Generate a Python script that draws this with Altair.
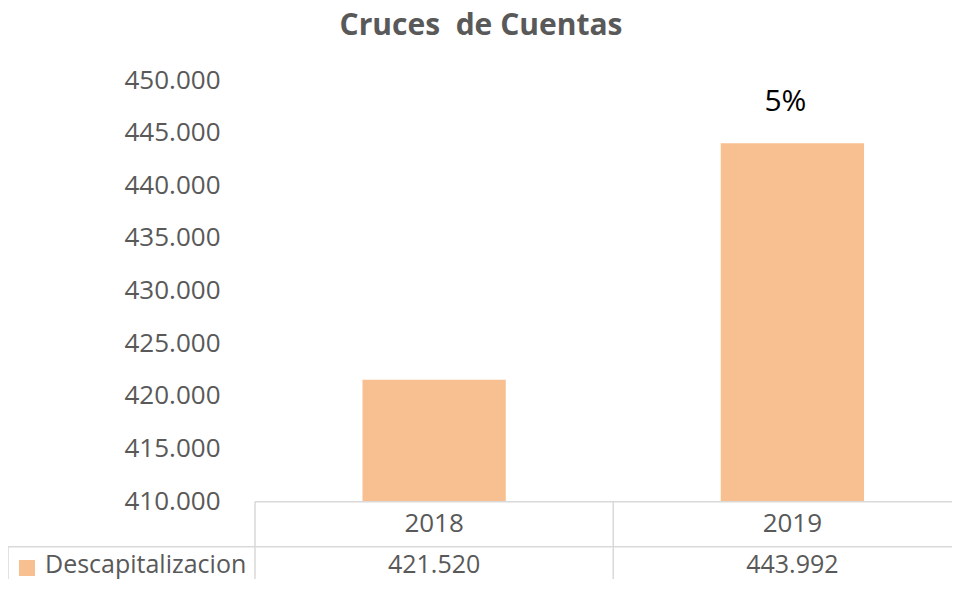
import altair as alt
import pandas as pd

# ---- data ----
years = ["2018", "2019"]
values = [421520, 443992]
pct_labels = ["", "5%"]
series_name = "Descapitalizacion"
y_ticks = [410000, 415000, 420000, 425000, 430000, 435000, 440000, 445000, 450000]
title_text = "Cruces\u00a0 de Cuentas"

FONT = "Open Sans"
GREY = "#595959"
BAR = "#F8C090"
LINE = "#D9D9D9"

df = pd.DataFrame({"year": years, "value": values, "pct": pct_labels})
one = pd.DataFrame({"k": [0]})
legend_df = pd.DataFrame({"name": [series_name]})

x_enc = alt.X(
    "year:N",
    scale=alt.Scale(domain=years, range=[0, 716.5], paddingInner=0.6, paddingOuter=0.3),
    axis=None,
)
y_enc = alt.Y(
    "value:Q",
    scale=alt.Scale(domain=[410000, 450000], zero=False, nice=False),
    axis=alt.Axis(
        values=y_ticks,
        labelExpr="replace(format(datum.value, ',.0f'), ',', '.')",
        labelFont=FONT,
        labelFontSize=26,
        labelColor=GREY,
        labelPadding=35,
        domain=False,
        ticks=False,
        grid=False,
        title=None,
    ),
)

bars = alt.Chart(df).mark_bar(color=BAR).encode(
    x=x_enc, y=y_enc, y2=alt.datum(410000)
)

pct = alt.Chart(df).mark_text(
    font=FONT, fontSize=30, color="#000000", baseline="alphabetic", dy=-32, dx=-7
).encode(x=x_enc, y=alt.Y("value:Q"), text="pct:N")

# data table
header = alt.Chart(df).mark_text(
    font=FONT, fontSize=26, color=GREY, baseline="middle"
).encode(x=x_enc, y=alt.value(444), text="year:N")

cells = alt.Chart(df).transform_calculate(
    label="replace(format(datum.value, ',.0f'), ',', '.')"
).mark_text(font=FONT, fontSize=25, color=GREY, baseline="middle").encode(
    x=x_enc, y=alt.value(485), text="label:N"
)

def rule(x, x2=None, y=None, y2=None):
    enc = {"x": alt.value(x), "y": alt.value(y)}
    if x2 is not None:
        enc["x2"] = alt.value(x2)
    if y2 is not None:
        enc["y2"] = alt.value(y2)
    return alt.Chart(one).mark_rule(color=LINE, strokeWidth=1.5).encode(**enc)

lines = [
    rule(0, x2=705, y=421.7),
    rule(-247, x2=705, y=466.7),
    rule(0, y=421.7, y2=515),
    rule(358.25, y=421.7, y2=515),
    rule(-247, y=466.7, y2=515),
]

legend_sq = alt.Chart(legend_df).mark_square(size=256, color=BAR, opacity=1).encode(
    x=alt.value(-228), y=alt.value(488)
)
legend_txt = alt.Chart(legend_df).mark_text(
    font=FONT, fontSize=25, color=GREY, align="left", baseline="middle"
).encode(x=alt.value(-210), y=alt.value(485), text="name:N")

title = alt.Chart(pd.DataFrame({"t": [title_text]})).mark_text(
    font=FONT, fontSize=30, fontWeight="bold", color=GREY, align="center", baseline="alphabetic"
).encode(x=alt.value(226), y=alt.value(-45), text="t:N")

chart = alt.layer(
    bars, pct, header, cells, *lines, legend_sq, legend_txt, title
).properties(
    width=697,
    height=421,
    autosize=alt.AutoSizeParams(type="none"),
    padding={"left": 247, "top": 72, "right": 0, "bottom": 78},
).configure_view(stroke=None)

chart.save("out.html", embed_options={"renderer": "svg", "actions": False})
